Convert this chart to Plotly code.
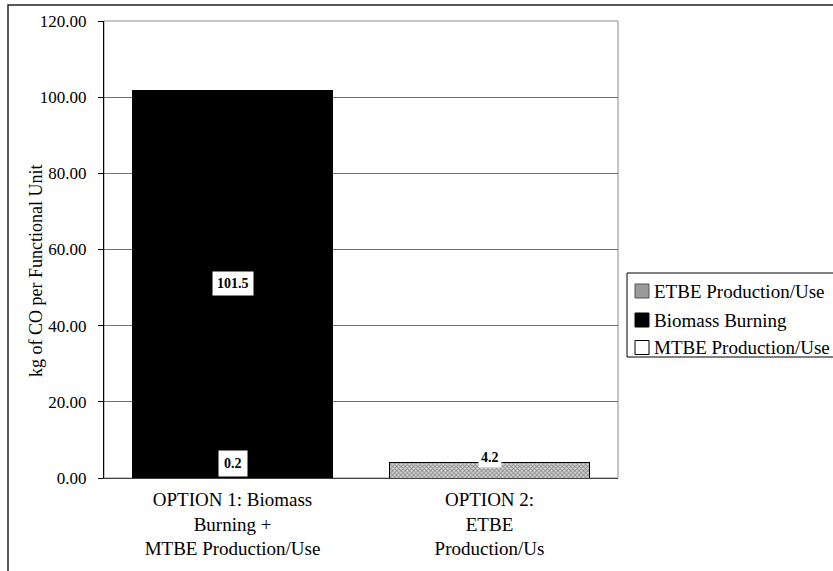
import plotly.graph_objects as go

# Categories and stacked values (kg of CO per functional unit)
categories = [
    "OPTION 1: Biomass<br>Burning +<br>MTBE Production/Use",
    "OPTION 2:<br>ETBE<br>Production/Us",
]
mtbe_values = [0.2, None]
biomass_values = [101.5, None]
etbe_values = [None, 4.2]
series_names = ["ETBE Production/Use", "Biomass Burning", "MTBE Production/Use"]
y_ticks = [0, 20, 40, 60, 80, 100, 120]

W, H = 833, 571
ML, MR, MT, MB = 104, 215, 21, 93
PW, PH = W - ML - MR, H - MT - MB
SERIF = "Liberation Serif, Times New Roman, serif"


def xp(px):
    return (px - ML) / PW


def yp(py):
    return (H - MB - py) / PH


fig = go.Figure()
fig.add_bar(x=categories, y=mtbe_values, name=series_names[2],
            marker=dict(color="white", line=dict(color="black", width=1)),
            width=0.775, showlegend=False)
fig.add_bar(x=categories, y=biomass_values, name=series_names[1],
            marker=dict(color="black", line=dict(color="black", width=1)),
            width=0.775, showlegend=False)
fig.add_bar(x=categories, y=etbe_values, name=series_names[0],
            marker=dict(color="#bdbdbd", line=dict(color="black", width=1),
                        pattern=dict(shape="x", size=3, solidity=0.5,
                                     fgcolor="#444444", bgcolor="#d4d4d4")),
            width=0.775, showlegend=False)

# value labels
lab_font = dict(family=SERIF, size=14, color="black", weight="bold")
fig.add_annotation(x=categories[0], y=mtbe_values[0] + biomass_values[0] / 2,
                   text=f"{biomass_values[0]}", showarrow=False, font=lab_font,
                   bgcolor="white", borderpad=4)
fig.add_annotation(x=categories[0], y=0, yshift=15,
                   text=f"{mtbe_values[0]}", showarrow=False, font=lab_font,
                   bgcolor="white", borderpad=5)
fig.add_annotation(x=categories[1], y=etbe_values[1], yshift=5,
                   text=f"{etbe_values[1]}", showarrow=False, font=lab_font,
                   bgcolor="white", borderpad=2)

# y-axis title
fig.add_annotation(x=xp(24), y=yp(271), xref="paper", yref="paper",
                   text="kg of CO per Functional Unit", textangle=-90,
                   showarrow=False, font=dict(family=SERIF, size=18, color="black"))

shapes = []
# outer chart frame
shapes.append(dict(type="rect", xref="paper", yref="paper",
                   x0=xp(8), x1=xp(1000), y0=yp(700), y1=yp(5),
                   line=dict(color="#222222", width=1.5), layer="below"))
# plot area border
shapes.append(dict(type="rect", xref="paper", yref="paper", x0=0, x1=1, y0=0, y1=1,
                   line=dict(color="#8c8c8c", width=1), layer="below"))
# legend box
shapes.append(dict(type="rect", xref="paper", yref="paper",
                   x0=xp(627), x1=xp(1000), y0=yp(357), y1=yp(273),
                   line=dict(color="black", width=1), fillcolor="white"))

swatch_fill = ["#9a9a9a", "black", "white"]
swatch_line = ["#555555", "black", "black"]
item_y = [291, 320, 347.5]
for name, fill, ln, cy in zip(series_names, swatch_fill, swatch_line, item_y):
    shapes.append(dict(type="rect", xref="paper", yref="paper",
                       x0=xp(635), x1=xp(649), y0=yp(cy + 7), y1=yp(cy - 7),
                       line=dict(color=ln, width=1), fillcolor=fill))
    fig.add_annotation(x=xp(652), y=yp(cy), xref="paper", yref="paper",
                       xanchor="left", yanchor="middle", text=name, showarrow=False,
                       font=dict(family=SERIF, size=19, color="black"))

fig.update_layout(
    width=W, height=H,
    margin=dict(l=ML, r=MR, t=MT, b=MB),
    barmode="stack", bargap=0.225,
    paper_bgcolor="white", plot_bgcolor="white",
    shapes=shapes,
    showlegend=False,
    font=dict(family=SERIF, color="black"),
)
fig.update_yaxes(range=[0, 120], tickvals=y_ticks, tickformat=".2f",
                 showgrid=True, gridcolor="#707070", gridwidth=1,
                 showline=True, linecolor="black", linewidth=1,
                 ticks="outside", ticklen=5, tickcolor="black",
                 tickfont=dict(family=SERIF, size=17, color="black"),
                 ticklabelstandoff=8, zeroline=False, fixedrange=True)
fig.update_xaxes(showline=True, linecolor="#404040", linewidth=1,
                 ticks="", tickfont=dict(family=SERIF, size=19, color="black"),
                 ticklabelstandoff=4, fixedrange=True)

fig.write_html("out.html")
